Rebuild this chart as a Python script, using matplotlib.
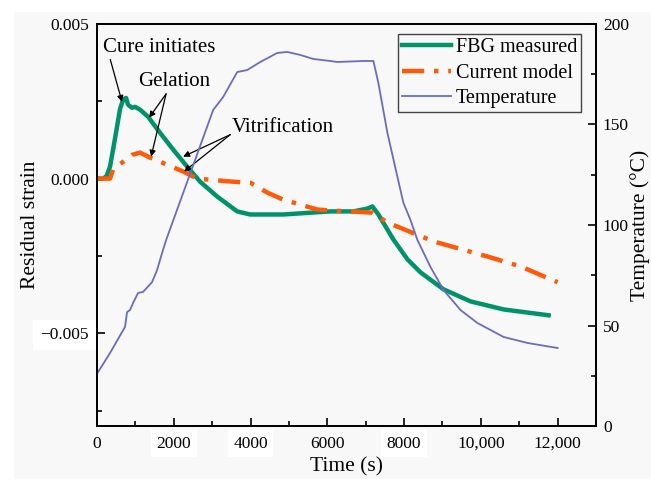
import matplotlib
matplotlib.use("Agg")
import matplotlib.pyplot as plt
from matplotlib.patches import Rectangle
from matplotlib.ticker import FixedLocator, MultipleLocator

plt.rcParams['font.family'] = ['Liberation Serif', 'DejaVu Serif']
plt.rcParams['mathtext.fontset'] = 'stix'

# FBG measured residual strain
fbg_t = [0, 157, 250, 339, 420, 522, 600, 678, 757, 809, 913, 991, 1122, 1331, 1644, 1983,
         2348, 2687, 3131, 3653, 3992, 4853, 6079, 6679, 7044, 7175, 7331, 7722, 7905,
         8088, 8427, 9027, 9731, 10592, 11766]
fbg_s = [0, 0, 0.00008, 0.00039, 0.00095, 0.00168, 0.00225, 0.00255, 0.00261, 0.00239,
         0.00229, 0.00232, 0.00223, 0.00200, 0.00148, 0.00094, 0.00039, -0.00010,
         -0.00058, -0.00106, -0.00116, -0.00116, -0.00106, -0.00106, -0.00097, -0.00090,
         -0.00116, -0.00197, -0.00229, -0.00261, -0.00303, -0.00358, -0.00397, -0.00423,
         -0.00442]

# Current model
mod_t = [0, 339, 417, 913, 1122, 1383, 1826, 2244, 2609, 3548, 3992, 4435, 4853, 5740,
         6079, 7175, 7566, 8766, 10175, 11036, 12000]
mod_s = [0, 0, 0.00029, 0.00077, 0.00084, 0.00068, 0.00045, 0.00023, 0.0, -0.00010,
         -0.00013, -0.00045, -0.00068, -0.00100, -0.00103, -0.00110, -0.00142, -0.00203,
         -0.00252, -0.00284, -0.00335]

# Temperature
tmp_t = [0, 339, 730, 783, 861, 939, 1070, 1200, 1435, 1565, 1696, 1800, 2244, 2687,
         3026, 3287, 3653, 3914, 4253, 4696, 4957, 5296, 5635, 6079, 6261, 6940, 7201,
         7331, 7566, 7827, 7983, 8166, 8349, 8688, 9027, 9470, 9914, 10592, 11218, 12000]
tmp_v = [26, 36.3, 49.3, 56.7, 57.7, 61.2, 66.2, 66.7, 71.6, 77.6, 86.1, 92.5, 115.9,
         139.3, 157.2, 163.7, 176.1, 177.1, 181.1, 185.6, 186.1, 184.6, 182.6, 181.6,
         181.1, 181.6, 181.6, 170.6, 145.8, 123.9, 111.0, 102.5, 92.5, 79.1, 67.7, 57.7,
         51.2, 44.3, 41.3, 38.8]

x_ticks = [0, 2000, 4000, 6000, 8000, 10000, 12000]
x_labels = ['0', '2000', '4000', '6000', '8000', '10,000', '12,000']
y_ticks = [-0.005, 0.0, 0.005]
y_labels = ['\u22120.005', '0.000', '0.005']
t_ticks = [0, 50, 100, 150, 200]

W, H = 651, 479
fig = plt.figure(figsize=(W / 100, H / 100), dpi=100, facecolor='white')
fig.patches.append(Rectangle((14 / W, 0), 1, 1 - 12 / H, transform=fig.transFigure,
                             facecolor='#f8f8f8', edgecolor='none', zorder=-10))

ax = fig.add_axes([97 / W, 1 - 426 / H, (596 - 97) / W, (426 - 24) / H])
ax.set_facecolor('#f8f8f8')
ax2 = ax.twinx()

green = '#00936a'
orange = '#ff5a0a'
blue = '#6b6bc4'

l1, = ax.plot(fbg_t, fbg_s, color=green, lw=3.2, label='FBG measured', zorder=3)
l2, = ax.plot(mod_t, mod_s, color=orange, lw=3.2, ls=(0, (5, 2.2, 1, 2.2)),
              label='Current model', zorder=3)
l3, = ax2.plot(tmp_t, tmp_v, color=blue, lw=1.3, label='Temperature')

ax.set_xlim(0, 13000)
ax.set_ylim(-0.008, 0.005)
ax2.set_ylim(0, 200)

ax.set_xticks(x_ticks)
ax.set_xticklabels(x_labels)
ax.xaxis.set_minor_locator(MultipleLocator(1000))
ax.set_yticks(y_ticks)
ax.set_yticklabels(y_labels)
ax.yaxis.set_minor_locator(FixedLocator([-0.0075, -0.0025, 0.0025]))
ax2.set_yticks(t_ticks)
ax2.yaxis.set_minor_locator(MultipleLocator(25))

for a in (ax, ax2):
    a.tick_params(which='major', direction='in', length=6, width=1.2, labelsize=12.5)
    a.tick_params(which='minor', direction='in', length=3.5, width=1.2)
    for s in a.spines.values():
        s.set_linewidth(1.3)
ax.tick_params(axis='x', pad=7)
ax.tick_params(axis='y', pad=6)
ax2.tick_params(axis='y', pad=5)

for lab in ax.get_xticklabels():
    if lab.get_text() in ('2000', '4000', '8000'):
        lab.set_bbox(dict(facecolor='white', edgecolor='none', pad=4))
for lab in ax.get_yticklabels():
    if lab.get_text() == '\u22120.005':
        lab.set_bbox(dict(facecolor='white', edgecolor='none', pad=5))

ax.set_xlabel('Time (s)', fontsize=15.5, labelpad=4)
ax.set_ylabel('Residual strain', fontsize=15.5)
ax.yaxis.set_label_coords((40 - 97) / 499, 0.5)
ax2.set_ylabel('Temperature (\u00b0C)', fontsize=15.5)
ax2.yaxis.set_label_coords((630 - 97) / 499, 0.5)

leg = ax.legend(handles=[l1, l2, l3], loc='upper right', fontsize=14.5,
                bbox_to_anchor=(0.97, 0.975), frameon=True, fancybox=False,
                handlelength=2.4, handletextpad=0.25, borderpad=0.2, labelspacing=0.32,
                borderaxespad=0)
leg.get_frame().set_edgecolor('#444444')
leg.get_frame().set_linewidth(1.0)
leg.get_frame().set_facecolor('#f8f8f8')
leg.get_frame().set_alpha(1)
leg.set_zorder(10)

aprops = dict(arrowstyle='-|>', color='black', lw=0.9, mutation_scale=9, shrinkA=0, shrinkB=0)
fs = 15
ax.annotate('Cure initiates', xy=(652, 0.00248), xytext=(150, 0.00425), fontsize=fs,
            ha='left', va='center', arrowprops=dict(aprops, relpos=(0.06, 0.0)))
ax.text(2000, 0.00313, 'Gelation', fontsize=fs, ha='center', va='center')
for tip in [(1357, 0.00197), (1409, 0.00071)]:
    ax.annotate('', xy=tip, xytext=(1800, 0.00274), arrowprops=aprops)
ax.text(3520, 0.00165, 'Vitrification', fontsize=fs, ha='left', va='center')
for tip in [(2244, 0.00071), (2270, 0.00023)]:
    ax.annotate('', xy=tip, xytext=(3470, 0.00142), arrowprops=aprops)

fig.savefig('out.png', dpi=100, facecolor=fig.get_facecolor())
